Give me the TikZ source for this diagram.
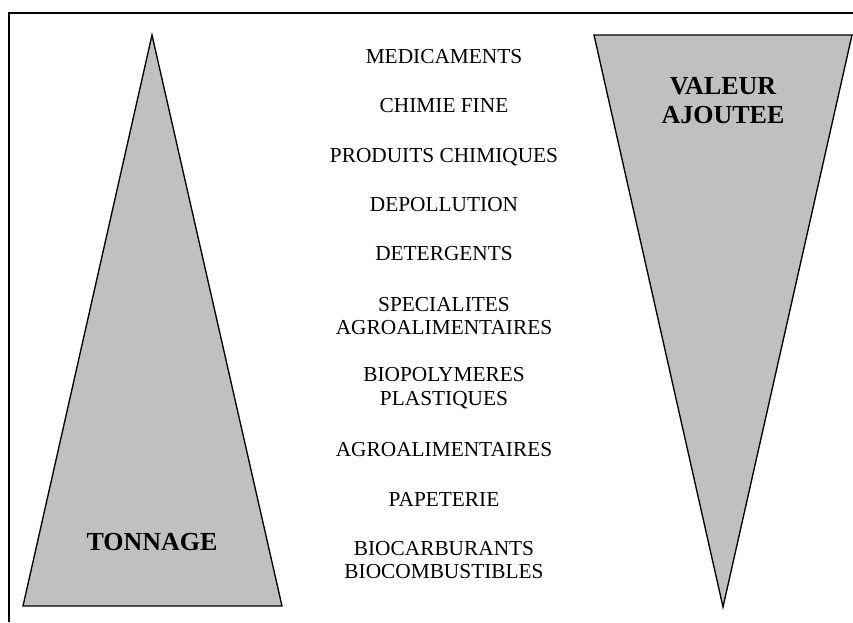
\documentclass[tikz,border=0pt]{standalone}
\usepackage{fontspec}
\setmainfont{Liberation Serif}
\usepackage{xcolor}
\usetikzlibrary{positioning}
\definecolor{gristri}{HTML}{C0C0C0}
\tikzset{
    secteur/.style={font=\fontsize{16}{17.6}\selectfont, align=center, inner sep=0pt},
    titre/.style={font=\fontsize{19.5}{21.8}\selectfont\bfseries, align=center, inner sep=0pt},
    pyramide/.style={draw, fill=gristri, line width=1pt, line join=miter}
}

\begin{document}
\begin{tikzpicture}[x=0.75pt, y=-0.75pt]
                        \useasboundingbox (0, 0) rectangle (853, 622);
                        \draw[line width=0.8pt] (853, 13) -- (9, 13) -- (9, 622);

                        \draw[pyramide] (23, 606) -- (152, 35) -- (282, 606) -- cycle;
                        \draw[pyramide] (594, 35) -- (852, 35) -- (723, 607) -- cycle;

                        \node[titre] (tonnage) at (152, 542) {TONNAGE};
                        \node[titre] (valeur) at (723, 101) {VALEUR\\AJOUTEE};

                        \node[secteur] (medic) at (444, 57) {MEDICAMENTS};
                        \node[secteur] (chimfine) at (444, 106) {CHIMIE FINE};
                        \node[secteur] (prodchim) at (444, 157) {PRODUITS CHIMIQUES};
                        \node[secteur] (depol) at (444, 205) {DEPOLLUTION};
                        \node[secteur] (deterg) at (444, 254) {DETERGENTS};
                        \node[secteur] (specagro) at (444, 316) {SPECIALITES\\AGROALIMENTAIRES};
                        \node[secteur] (biopoly) at (444, 388) {BIOPOLYMERES\\PLASTIQUES};
                        \node[secteur] (agro) at (444, 450) {AGROALIMENTAIRES};
                        \node[secteur] (papet) at (444, 499) {PAPETERIE};
                        \node[secteur] (biocarb) at (444, 560) {BIOCARBURANTS\\BIOCOMBUSTIBLES};
                    \end{tikzpicture}
\end{document}
